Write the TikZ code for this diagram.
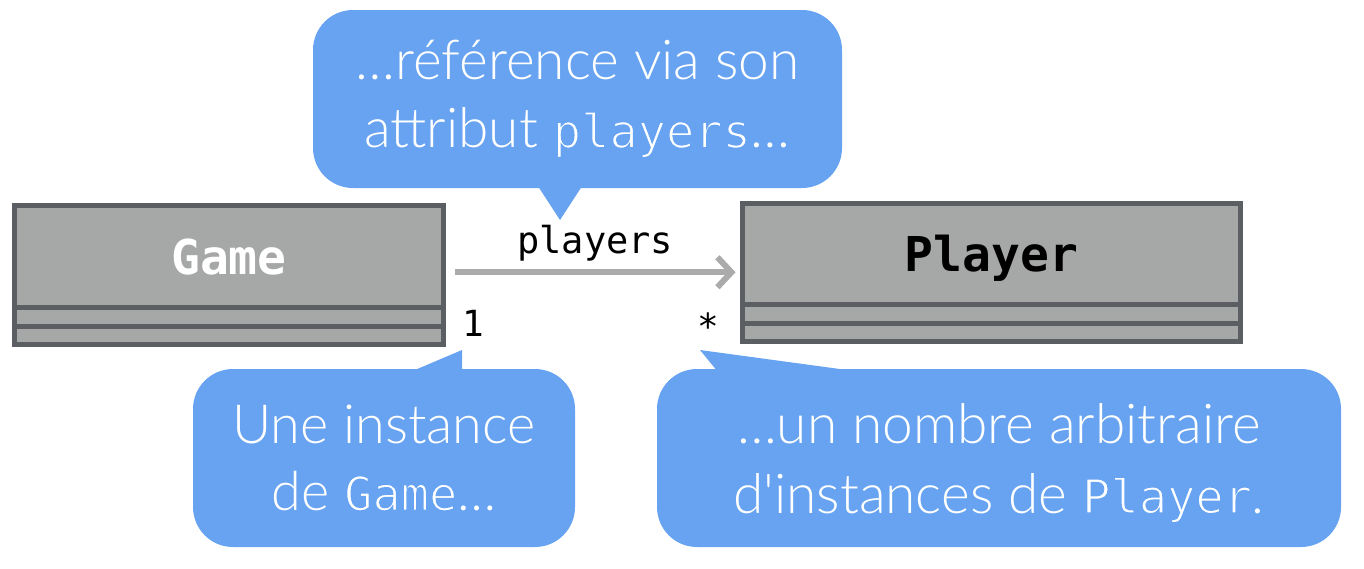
\documentclass[tikz,border=0pt]{standalone}
\usepackage{fontspec}
\usetikzlibrary{arrows.meta,calc}
\newfontfamily\bubblefont{Lato Light}
\newfontfamily\codefont{DejaVu Sans Mono}
\definecolor{bubble}{HTML}{67A3F0}
\definecolor{boxfill}{HTML}{A6A7A7}
\definecolor{boxline}{HTML}{5B5E63}
\definecolor{assocline}{HTML}{ABABAB}
\tikzset{
  classhead/.style={draw=boxline,fill=boxfill,line width=5pt,outer sep=0pt,inner sep=0pt,text depth=0pt,font=\codefont\bfseries\fontsize{48}{50}\selectfont},
  comp/.style={draw=boxline,fill=boxfill,line width=5pt},
  assoc/.style={draw=assocline,line width=6pt,-{Straight Barb[length=14pt,width=30pt,line width=6pt]}},
  bubblebox/.style={fill=bubble,rounded corners=40pt,inner sep=0pt,text=white,align=center},
  tail/.style={fill=bubble},
  mult/.style={font=\codefont\fontsize{36}{40}\selectfont,inner sep=0pt},
}
\newcommand{\bcode}[1]{{\codefont\fontsize{47}{67}\selectfont\special{pdf:literal direct 2 Tr 1.5 w 0.404 0.639 0.941 RG}#1\special{pdf:literal direct 0 Tr}}}
\begin{document}
\begin{tikzpicture}[x=1pt,y=-1pt]
\useasboundingbox (0,0) rectangle (1364,568);
% classes
\node[classhead,minimum width=429pt,minimum height=101.5pt] (game) at (229,256.25) {\textcolor{white}{Game}};
\draw[comp] (game.south west) rectangle ++(429,19) coordinate (gameA);
\draw[comp] ($(game.south west)+(0,19)$) rectangle ++(429,18.5) coordinate (gameB);
\node[classhead,minimum width=498pt,minimum height=100.5pt] (player) at (991.5,253.75) {Player};
\draw[comp] (player.south west) rectangle ++(498,19) coordinate (playerA);
\draw[comp] ($(player.south west)+(0,19)$) rectangle ++(498,18.5) coordinate (playerB);
% association
\coordinate (s) at ($(game.east)+(11.5,16)$);
\coordinate (e) at ($(player.west |- s)+(-7,0)$);
\draw[assoc] (s) -- (e) node[midway,above=8pt,font=\codefont\fontsize{37}{40}\selectfont,inner sep=0pt] (role) {players};
\node[mult] (m1) at (473,323) {1};
\node[mult] (m2) at (708,326) {*};
% top bubble
\node[bubblebox,minimum width=529pt,minimum height=178pt,font=\bubblefont\fontsize{55}{68}\selectfont] (b1) at (577.5,99) {…référence via son\\attribut \bcode{players}…};
\coordinate (t1) at (560,220);
\fill[tail] ($(b1.south)+(-39.5,-2)$) -- (t1) -- ($(b1.south)+(4.5,-2)$) -- cycle;
% bottom left bubble
\node[bubblebox,minimum width=382pt,minimum height=178pt,font=\bubblefont\fontsize{54}{67}\selectfont] (b2) at (384,458) {Une instance\\de \bcode{Game}…};
\coordinate (t2) at (462,350);
\fill[tail] ($(b2.north)+(29,2)$) -- (t2) -- ($(b2.north)+(78,2)$) -- cycle;
% bottom right bubble
\node[bubblebox,minimum width=684pt,minimum height=178pt,font=\bubblefont\fontsize{55}{70}\selectfont] (b3) at (999,458) {\rule{0pt}{50pt}…un nombre arbitraire\\d'instances de \bcode{Player}.};
\coordinate (t3) at (700,350);
\fill[tail] ($(b3.north)+(-282,2)$) -- (t3) -- ($(b3.north)+(-146,2)$) -- cycle;
\end{tikzpicture}
\end{document}
